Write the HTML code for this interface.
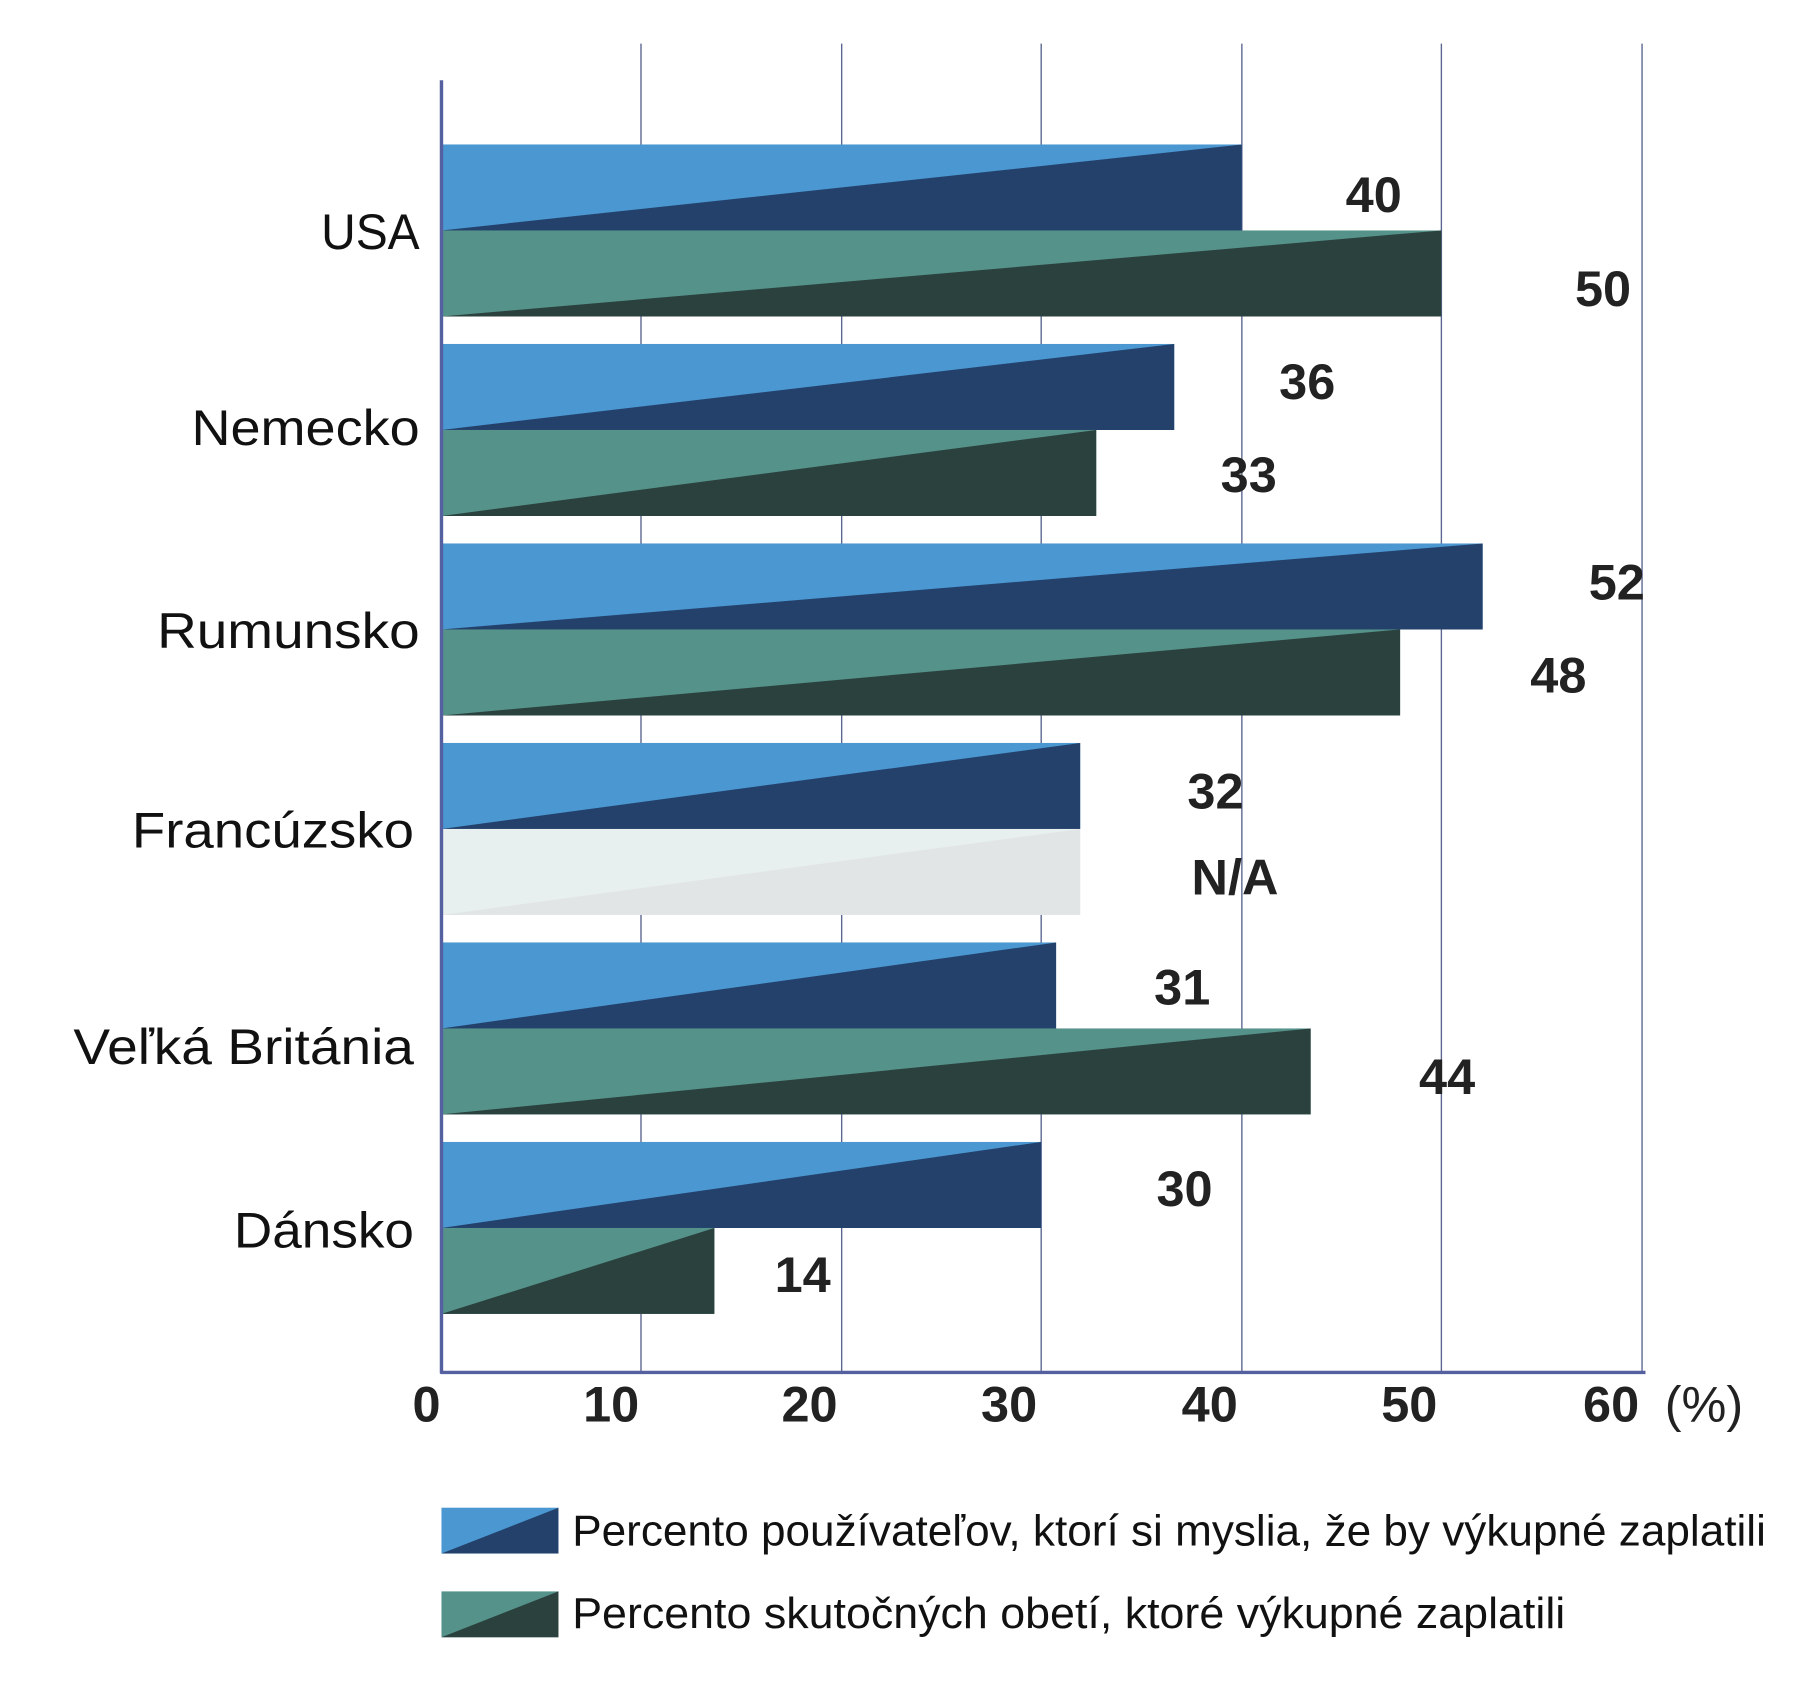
<!DOCTYPE html>
<html><head><meta charset="utf-8"><style>html,body{margin:0;padding:0;background:#fff}svg{display:block}</style></head><body>
<svg width="1798" height="1690" viewBox="0 0 1568 1474" preserveAspectRatio="none" xmlns="http://www.w3.org/2000/svg">
<rect width="1568" height="1474" fill="#fff"/>
<g stroke="#5a6690" stroke-width="1.2">
<line x1="559" y1="38" x2="559" y2="1197"/><line x1="734" y1="38" x2="734" y2="1197"/><line x1="908" y1="38" x2="908" y2="1197"/><line x1="1083" y1="38" x2="1083" y2="1197"/><line x1="1257" y1="38" x2="1257" y2="1197"/><line x1="1432" y1="38" x2="1432" y2="1197"/>
</g>
<g id="bars">
<rect x="385" y="126" width="698" height="75" fill="#4a97d2"/><polygon points="385,201 1083,126 1083,201" fill="#24416b"/>
<rect x="385" y="201" width="872" height="75" fill="#55928a"/><polygon points="385,276 1257,201 1257,276" fill="#2b413e"/>
<rect x="385" y="300" width="639" height="75" fill="#4a97d2"/><polygon points="385,375 1024,300 1024,375" fill="#24416b"/>
<rect x="385" y="375" width="571" height="75" fill="#55928a"/><polygon points="385,450 956,375 956,450" fill="#2b413e"/>
<rect x="385" y="474" width="908" height="75" fill="#4a97d2"/><polygon points="385,549 1293,474 1293,549" fill="#24416b"/>
<rect x="385" y="549" width="836" height="75" fill="#55928a"/><polygon points="385,624 1221,549 1221,624" fill="#2b413e"/>
<rect x="385" y="648" width="557" height="75" fill="#4a97d2"/><polygon points="385,723 942,648 942,723" fill="#24416b"/>
<rect x="385" y="723" width="557" height="75" fill="#e8efef"/><polygon points="385,798 942,723 942,798" fill="#e2e5e6"/>
<rect x="385" y="822" width="536" height="75" fill="#4a97d2"/><polygon points="385,897 921,822 921,897" fill="#24416b"/>
<rect x="385" y="897" width="758" height="75" fill="#55928a"/><polygon points="385,972 1143,897 1143,972" fill="#2b413e"/>
<rect x="385" y="996" width="523" height="75" fill="#4a97d2"/><polygon points="385,1071 908,996 908,1071" fill="#24416b"/>
<rect x="385" y="1071" width="238" height="75" fill="#55928a"/><polygon points="385,1146 623,1071 623,1146" fill="#2b413e"/>
</g>
<line x1="385" y1="70" x2="385" y2="1198" stroke="#5560a0" stroke-width="3"/>
<line x1="384" y1="1197" x2="1435" y2="1197" stroke="#5560a0" stroke-width="3"/>
<g font-family="Liberation Sans, sans-serif" font-size="44" fill="#111" text-anchor="end">
<text x="366" y="217" textLength="86" lengthAdjust="spacingAndGlyphs">USA</text>
<text x="366" y="388" textLength="199" lengthAdjust="spacingAndGlyphs">Nemecko</text>
<text x="366" y="565" textLength="229" lengthAdjust="spacingAndGlyphs">Rumunsko</text>
<text x="361" y="739" textLength="246" lengthAdjust="spacingAndGlyphs">Francúzsko</text>
<text x="361" y="928" textLength="297" lengthAdjust="spacingAndGlyphs">Veľká Británia</text>
<text x="361" y="1088" textLength="157" lengthAdjust="spacingAndGlyphs">Dánsko</text>
</g>
<g font-family="Liberation Sans, sans-serif" font-size="44" font-weight="bold" fill="#222" text-anchor="middle">
<text x="1198" y="185">40</text><text x="1398" y="267">50</text>
<text x="1140" y="348">36</text><text x="1089" y="429">33</text>
<text x="1410" y="523">52</text><text x="1359" y="604">48</text>
<text x="1060" y="705">32</text><text x="1077" y="780">N/A</text>
<text x="1031" y="876">31</text><text x="1262" y="954">44</text>
<text x="1033" y="1052">30</text><text x="700" y="1127">14</text>
<text x="372" y="1240">0</text><text x="533" y="1240">10</text><text x="706" y="1240">20</text><text x="880" y="1240">30</text><text x="1055" y="1240">40</text><text x="1229" y="1240">50</text><text x="1405" y="1240">60</text>
<text x="1486" y="1240" font-weight="normal">(%)</text>
</g>
<rect x="385" y="1315" width="102" height="40" fill="#4a97d2"/><polygon points="385,1355 487,1315 487,1355" fill="#24416b"/>
<rect x="385" y="1388" width="102" height="40" fill="#55928a"/><polygon points="385,1428 487,1388 487,1428" fill="#2b413e"/>
<g font-family="Liberation Sans, sans-serif" font-size="38" fill="#111">
<text x="499" y="1348" textLength="1041" lengthAdjust="spacingAndGlyphs">Percento používateľov, ktorí si myslia, že by výkupné zaplatili</text>
<text x="499" y="1420" textLength="866" lengthAdjust="spacingAndGlyphs">Percento skutočných obetí, ktoré výkupné zaplatili</text>
</g>
</svg>
</body></html>
